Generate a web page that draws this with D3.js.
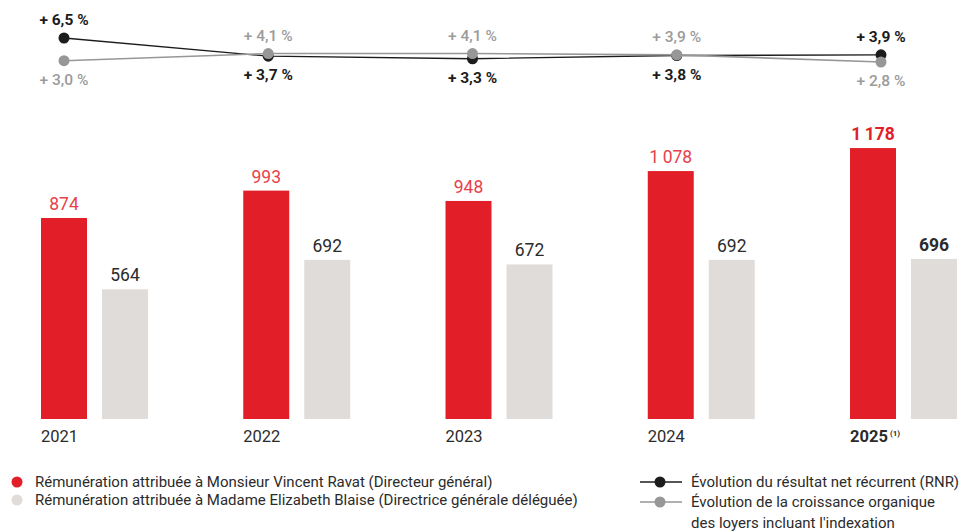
<!DOCTYPE html>
<html>
<head>
<meta charset="utf-8">
<script src="https://cdn.jsdelivr.net/npm/d3@7"></script>
<style>
  body { margin: 0; background: #fff; }
  svg text { font-family: Roboto, "Liberation Sans", sans-serif; }
</style>
</head>
<body>
<svg id="chart"></svg>
<script>
var years = ["2021", "2022", "2023", "2024", "2025"];
var ravat = [874, 993, 948, 1078, 1178];
var blaise = [564, 692, 672, 692, 696];
var rnr = [6.5, 3.7, 3.3, 3.8, 3.9];
var loyers = [3.0, 4.1, 4.1, 3.9, 2.8];
var legendBars = ["Rémunération attribuée à Monsieur Vincent Ravat (Directeur général)",
                  "Rémunération attribuée à Madame Elizabeth Blaise (Directrice générale déléguée)"];
var legendLines = [["Évolution du résultat net récurrent (RNR)"],
                   ["Évolution de la croissance organique", "des loyers incluant l'indexation"]];

var screen = {width: 971, height: 531};
var red = "#e21f28", grey = "#e0dcd9", dark = "#2b2b2b", lineGrey = "#979797";

var fr = d3.formatLocale({decimal: ",", thousands: "\u2009", grouping: [3], currency: ["", " €"]});
var fmtNum = fr.format(",d");
var fmtPct = function(v) { return "+ " + fr.format(".1f")(v) + " %"; };

var svg = d3.select("#chart")
    .attr("width", screen.width)
    .attr("height", screen.height);

var xScale = d3.scaleBand()
    .domain(years)
    .range([41, 957])
    .paddingInner(0.471)
    .paddingOuter(0);

var inner = d3.scaleBand()
    .domain([0, 1])
    .range([0, xScale.bandwidth()])
    .paddingInner(0.246);

var yScale = d3.scaleLinear()
    .domain([0, 1200])
    .range([419, 143]);

// the percentage dots sit on their own, slightly wider spacing
var xPoint = d3.scalePoint()
    .domain(years)
    .range([64, 881]);

var pctScale = d3.scaleLinear()
    .domain([2.8, 6.5])
    .range([62, 38]);

var last = years[years.length - 1];

// bars
var series = [ravat, blaise];
var groups = svg.append("g").classed("bars", true)
    .selectAll("g")
    .data(years)
    .enter()
    .append("g")
    .attr("transform", function(y) { return "translate(" + xScale(y) + ",0)"; });

groups.selectAll("rect")
    .data(function(y, i) { return series.map(function(s, k) { return {k: k, v: s[i], year: y}; }); })
    .enter()
    .append("rect")
    .attr("x", function(d) { return inner(d.k); })
    .attr("y", function(d) { return yScale(d.v); })
    .attr("width", inner.bandwidth())
    .attr("height", function(d) { return yScale(0) - yScale(d.v); })
    .attr("fill", function(d) { return d.k == 0 ? red : grey; });

groups.selectAll("text.value")
    .data(function(y, i) { return series.map(function(s, k) { return {k: k, v: s[i], year: y}; }); })
    .enter()
    .append("text")
    .classed("value", true)
    .text(function(d) { return fmtNum(d.v); })
    .attr("x", function(d) { return inner(d.k) + inner.bandwidth() / 2; })
    .attr("y", function(d) { return yScale(d.v) - 8; })
    .attr("text-anchor", "middle")
    .attr("font-size", 17.5)
    .attr("font-weight", function(d) { return d.year == last ? "bold" : "normal"; })
    .attr("fill", function(d) { return d.k == 0 ? (d.year == last ? red : "#e8414a") : dark; });

// year labels
var yearLabels = groups.append("text")
    .attr("x", 0)
    .attr("y", 442)
    .attr("font-size", 16.5)
    .attr("fill", dark)
    .attr("font-weight", function(y) { return y == last ? "bold" : "normal"; });
yearLabels.append("tspan").text(function(y) { return y; });
yearLabels.filter(function(y) { return y == last; })
    .append("tspan")
    .text("(1)")
    .attr("font-size", 8)
    .attr("dx", 2)
    .attr("dy", -6);

// percentage lines
var lineGen = d3.line()
    .x(function(v, i) { return xPoint(years[i]); })
    .y(function(v) { return pctScale(v); });

var pctSeries = [
    {values: rnr, other: loyers, color: "#1c1c1c", text: "#1c1c1c", weight: "bold", width: 1.3},
    {values: loyers, other: rnr, color: lineGrey, text: "#9b9b9b", weight: 500, width: 1.6}
];

var lines = svg.append("g").classed("lines", true)
    .selectAll("g")
    .data(pctSeries)
    .enter()
    .append("g");

lines.append("path")
    .attr("d", function(s) { return lineGen(s.values); })
    .attr("fill", "none")
    .attr("stroke", function(s) { return s.color; })
    .attr("stroke-width", function(s) { return s.width; });

lines.selectAll("circle")
    .data(function(s) { return s.values.map(function(v) { return {v: v, s: s}; }); })
    .enter()
    .append("circle")
    .attr("cx", function(d, i) { return xPoint(years[i]); })
    .attr("cy", function(d) { return pctScale(d.v); })
    .attr("r", 5.5)
    .attr("fill", function(d) { return d.s.color; });

lines.selectAll("text")
    .data(function(s) { return s.values.map(function(v, i) { return {v: v, o: s.other[i], s: s}; }); })
    .enter()
    .append("text")
    .text(function(d) { return fmtPct(d.v); })
    .attr("x", function(d, i) { return xPoint(years[i]); })
    .attr("y", function(d) { return d.v >= d.o ? pctScale(d.v) - 13 : pctScale(d.v) + 24; })
    .attr("text-anchor", "middle")
    .attr("font-size", 15.5)
    .attr("font-weight", function(d) { return d.s.weight; })
    .attr("fill", function(d) { return d.s.text; });

// legend, bars
var legend = svg.append("g").classed("legend", true);
var barEntries = legend.selectAll("g.barEntry")
    .data(legendBars)
    .enter()
    .append("g")
    .classed("barEntry", true)
    .attr("transform", function(t, i) { return "translate(0," + (482 + i * 18) + ")"; });
barEntries.append("circle")
    .attr("cx", 17)
    .attr("cy", 0)
    .attr("r", 5.5)
    .attr("fill", function(t, i) { return i == 0 ? red : grey; });
barEntries.append("text")
    .text(function(t) { return t; })
    .attr("x", 35)
    .attr("y", 5)
    .attr("font-size", 15)
    .attr("fill", dark);

// legend, lines
var lineEntries = legend.selectAll("g.lineEntry")
    .data(legendLines)
    .enter()
    .append("g")
    .classed("lineEntry", true)
    .attr("transform", function(t, i) { return "translate(0," + (482 + i * 20) + ")"; });
lineEntries.append("line")
    .attr("x1", 640)
    .attr("x2", 682)
    .attr("stroke", function(t, i) { return pctSeries[i].color; })
    .attr("stroke-width", 1.5);
lineEntries.append("circle")
    .attr("cx", 660)
    .attr("r", 5.5)
    .attr("fill", function(t, i) { return pctSeries[i].color; });
lineEntries.append("text")
    .attr("x", 691)
    .attr("y", 5)
    .attr("font-size", 15)
    .attr("fill", dark)
    .selectAll("tspan")
    .data(function(t) { return t; })
    .enter()
    .append("tspan")
    .attr("x", 691)
    .attr("dy", function(l, j) { return j == 0 ? 0 : 21; })
    .text(function(l) { return l; });
</script>
</body>
</html>
